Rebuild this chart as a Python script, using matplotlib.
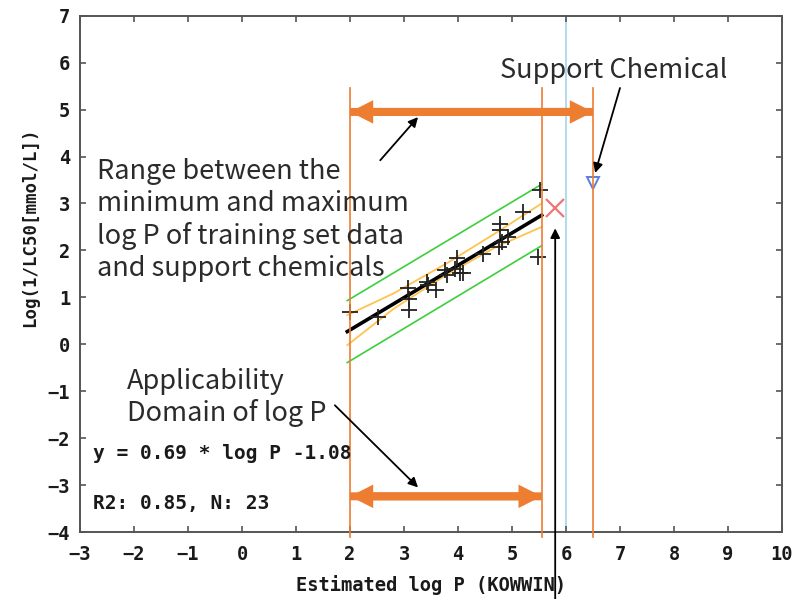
import numpy as np
import matplotlib
matplotlib.use("Agg")
import matplotlib.pyplot as plt
from matplotlib.patches import FancyArrow

# training set points (log P, log(1/LC50))
logp = [2.00, 2.52, 3.08, 3.09, 3.09, 3.45, 3.42, 3.60, 3.76, 3.79, 3.98, 3.94,
        4.10, 4.04, 4.47, 4.78, 4.78, 4.81, 4.75, 4.93, 5.21, 5.52, 5.49]
tox = [0.68, 0.58, 1.19, 0.97, 0.72, 1.26, 1.33, 1.15, 1.58, 1.47, 1.83, 1.61,
       1.51, 1.51, 1.93, 2.57, 2.43, 2.18, 2.07, 2.29, 2.82, 3.28, 1.86]

# regression line end points
reg_x = [1.95, 5.55]
reg_y = [0.27, 2.75]
# prediction interval (green)
pi_up = [0.93, 3.41]
pi_lo = [-0.39, 2.10]
# confidence band (yellow), read at a few x
ci_x = [1.95, 2.8, 3.8, 4.7, 5.55]
ci_up = [0.62, 1.08, 1.73, 2.37, 3.00]
ci_lo = [-0.02, 0.75, 1.49, 2.07, 2.50]

target = (5.80, 2.90)      # red cross
support = (6.50, 3.44)     # support chemical

ad_min, ad_max = 2.0, 5.55   # applicability domain
range_max = 6.5
blue_x = 6.0

orange = "#ED7D31"

fig = plt.figure(figsize=(8.02, 5.99), dpi=100)
ax = fig.add_axes([80/802, 1-532/599, 702/802, 516.3/599])
ax.set_xlim(-3, 10)
ax.set_ylim(-4, 7)

ax.axvline(blue_x, color="#a9d9ea", lw=1.3, zorder=1)

ax.plot(reg_x, pi_up, color="#3ccf3c", lw=1.2)
ax.plot(reg_x, pi_lo, color="#3ccf3c", lw=1.2)
ax.plot(ci_x, ci_up, color="#ffc34d", lw=1.3)
ax.plot(ci_x, ci_lo, color="#ffc34d", lw=1.3)
ax.plot(reg_x, reg_y, color="black", lw=2.6)
ax.plot(logp, tox, "+", color="#222222", ms=12, mew=1.3)
ax.plot(*target, "x", color="#f07575", ms=13, mew=1.6)
ax.plot(*support, "v", mfc="none", mec="#5a7ede", ms=8, mew=1.4)

# orange guide lines
for xv in [ad_min, ad_max, range_max]:
    ax.plot([xv, xv], [5.46, -4.1], color=orange, lw=1.2, clip_on=False, zorder=3)

def double_arrow(x0, x1, y):
    for a, b in [(x0, x1), (x1, x0)]:
        ax.add_patch(FancyArrow(a, y, b - a, 0, width=0.17, head_width=0.5,
                                head_length=0.43, length_includes_head=True,
                                color=orange, lw=0, zorder=4))

double_arrow(ad_min, range_max, 4.95)
double_arrow(ad_min, ad_max, -3.24)

txt = dict(family=["Noto Sans CJK JP", "DejaVu Sans"], fontsize=19.5, color="#2b2b2b")
ax.text(-2.69, 3.97, "Range between the\nminimum and maximum\nlog P of training set data\nand support chemicals",
        va="top", ha="left", linespacing=1.24, **txt)
ax.text(-2.13, -0.50, "Applicability\nDomain of log P", va="top", ha="left", linespacing=1.18, **txt)
ax.text(4.78, 6.12, "Support Chemical", va="top", ha="left", **txt)

arw = dict(arrowstyle="-|>", color="black", lw=1.3, mutation_scale=14, shrinkA=0, shrinkB=0)
ax.annotate("", xy=(3.26, 4.84), xytext=(2.56, 3.92), arrowprops=arw)
ax.annotate("", xy=(6.54, 3.65), xytext=(7.0, 5.46), arrowprops=arw)
ax.annotate("", xy=(3.26, -3.05), xytext=(1.72, -1.30), arrowprops=arw)
ax.annotate("", xy=(5.80, 2.47), xytext=(5.80, -6.2), arrowprops=arw, annotation_clip=False)

mono = dict(family="DejaVu Sans Mono", fontweight="bold", color="#1a1a1a")
ax.text(-2.76, -2.32, "y = 0.69 * log P -1.08", va="center", ha="left", fontsize=14, **mono)
ax.text(-2.76, -3.39, "R2: 0.85, N: 23", va="center", ha="left", fontsize=14, **mono)

ax.set_xticks(range(-3, 11))
ax.set_yticks(range(-4, 8))
ax.tick_params(direction="in", top=True, right=True, length=4, width=1.2,
               color="#555555", labelsize=13.5, labelcolor="#1a1a1a")
ax.tick_params(axis="x", pad=9)
ax.tick_params(axis="y", pad=7)
for lab in ax.get_xticklabels() + ax.get_yticklabels():
    lab.set_family("DejaVu Sans Mono")
    lab.set_fontweight("bold")
for sp in ax.spines.values():
    sp.set_color("#555555")
    sp.set_linewidth(1.4)

ax.set_xlabel("Estimated log P (KOWWIN)", fontsize=13.5, labelpad=8, **mono)
ax.set_ylabel("Log(1/LC50[mmol/L])", fontsize=12.5, **mono)
ax.yaxis.set_label_coords(-0.058, 0.59)

fig.savefig("out.png", dpi=100)
